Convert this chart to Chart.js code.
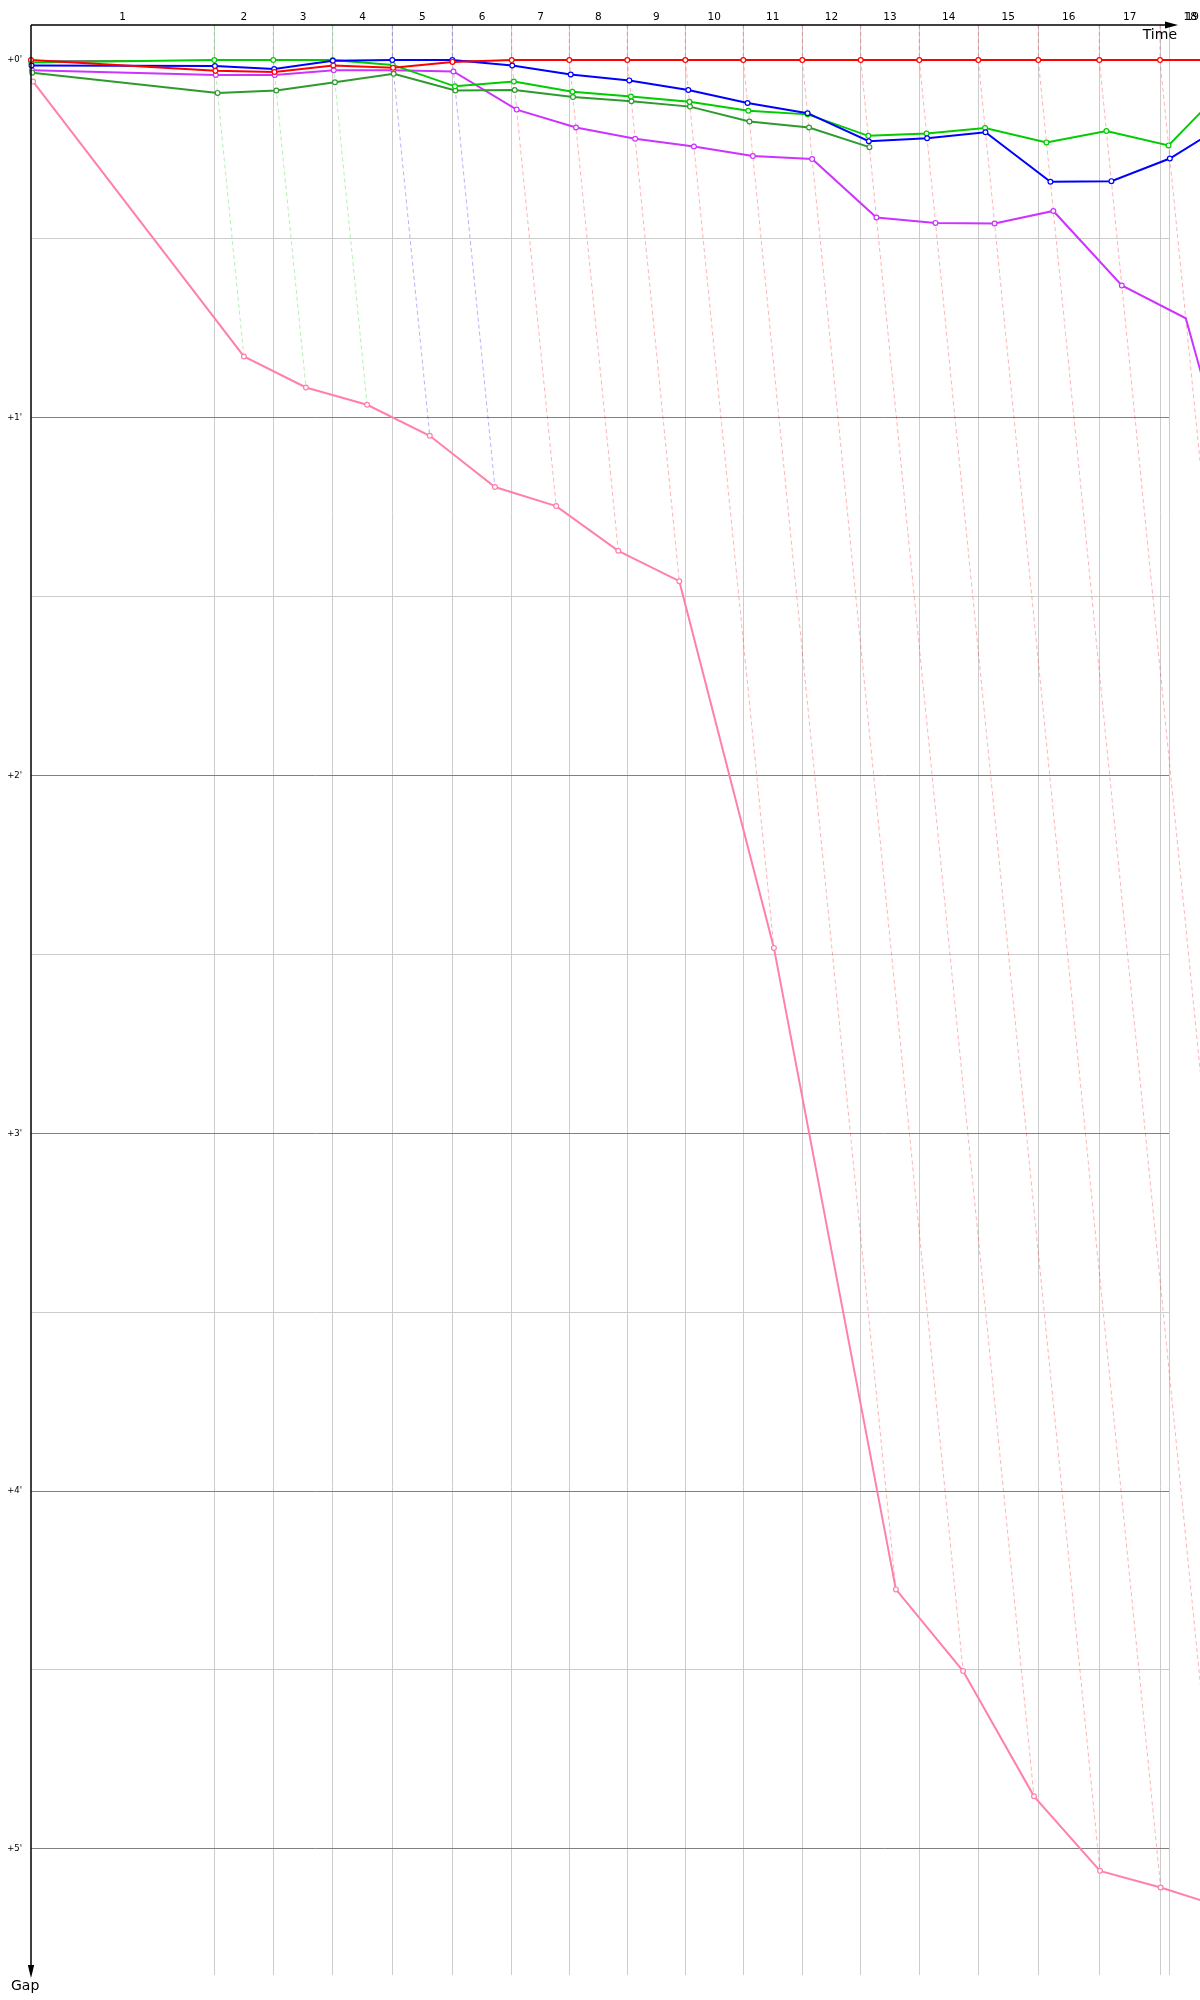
<!DOCTYPE html>
<html>
<head>
<meta charset="utf-8">
<script src="https://cdn.jsdelivr.net/npm/chart.js@4/dist/chart.umd.min.js"></script>
<style>
html,body{margin:0;padding:0;background:#fff;}
#wrap{width:1200px;height:2000px;position:relative;}
canvas{display:block;}
</style>
</head>
<body>
<div id="wrap"><canvas id="c" width="1200" height="2000"></canvas></div>
<script>
// ---------------- DATA ----------------
// lap numbers shown along the time axis
const lapNumbers = [1,2,3,4,5,6,7,8,9,10,11,12,13,14,15,16,17,18,19];
// leader's cumulative time (s) at start (index 0) and at the end of each lap
const leaderLapTimes = [0, 308.1, 407.2, 507.1, 607.2, 708.1, 807.9, 904.7, 1002.2, 1099.7,
  1197.1, 1296.3, 1394.5, 1492.9, 1592.1, 1692.9, 1795.5, 1897.5, 1999.0, 2100.0];
// leader at the end of each lap (index = lap number)
const lapLeader = [null,'green','green','green','blue','blue','red','red','red','red','red',
  'red','red','red','red','red','red','red'];
// gaps to leader (seconds), index = lap (0 = start)
const gapRed       = [0, 1.8, 2.0, 0.9, 1.3, 0.3, 0, 0, 0, 0, 0, 0, 0, 0, 0, 0, 0, 0, 0];
const gapBlue      = [0.9, 1.0, 1.5, 0.1, 0, 0, 0.9, 2.4, 3.4, 5.0, 7.2, 8.9, 13.6, 13.1, 12.1, 20.4, 20.3, 16.5, 10.6];
const gapGreen     = [0.4, 0, 0, 0, 0.8, 4.4, 3.6, 5.3, 6.1, 7.0, 8.5, 9.1, 12.7, 12.3, 11.4, 13.8, 11.9, 14.3, 4.9];
const gapDarkGreen = [2.1, 5.5, 5.1, 3.7, 2.3, 5.1, 5.0, 6.2, 6.9, 7.8, 10.3, 11.3, 14.6];
const gapPurple    = [1.7, 2.5, 2.5, 1.7, 1.7, 1.9, 8.3, 11.3, 13.2, 14.5, 16.1, 16.6, 26.4, 27.3, 27.4, 25.3, 37.8, 43.3, 100];
const gapPink      = [3.6, 49.7, 54.9, 57.8, 63.0, 71.6, 74.8, 82.3, 87.4, 148.9, 256.5, 270.2, 291.2, 303.7, 306.5, 309.8, 312, 315];
// gap axis: labelled minutes, grid every half minute
const gapMinuteLabels = ["+0'","+1'","+2'","+3'","+4'","+5'"];

// ---------------- STYLE ----------------
const COLORS = {
  red: '#ff0000', blue: '#0000ff', green: '#00cc00', darkgreen: '#2e9a2e',
  purple: '#cc33ff', pink: '#ff80aa'
};
const DASH = { red: 'rgba(255,0,0,0.3)', green: 'rgba(0,204,0,0.3)', blue: 'rgba(0,0,255,0.3)' };
const X_MIN = 0, X_MAX = 1912.6, Y_MIN = -5.89, Y_MAX = 321.17;

function series(gaps) {
  return gaps.map((g, i) => ({ x: leaderLapTimes[i] + g, y: g }));
}
function mainDs(gaps, color, order) {
  return {
    data: series(gaps), showLine: true, borderColor: color, borderWidth: 2,
    pointRadius: 2.4, pointBorderWidth: 1.2, pointBackgroundColor: '#ffffff',
    pointBorderColor: color, clip: false, order: order, tension: 0
  };
}
const datasets = [
  mainDs(gapRed, COLORS.red, 0),
  mainDs(gapBlue, COLORS.blue, 1),
  mainDs(gapGreen, COLORS.green, 2),
  mainDs(gapDarkGreen, COLORS.darkgreen, 3),
  mainDs(gapPurple, COLORS.purple, 4),
  mainDs(gapPink, COLORS.pink, 5)
];
for (let lap = 1; lap < lapLeader.length; lap++) {
  const t = leaderLapTimes[lap], g = gapPink[lap];
  datasets.push({
    data: [{ x: t, y: Y_MIN }, { x: t, y: 0 }, { x: t + g, y: g }],
    showLine: true, borderColor: DASH[lapLeader[lap]], borderWidth: 1,
    borderDash: [4, 3], pointRadius: 0, clip: false, order: 10
  });
}

const decor = {
  id: 'decor',
  afterDraw(chart) {
    const ctx = chart.ctx, xs = chart.scales.x, ys = chart.scales.y, ca = chart.chartArea;
    ctx.save();
    // axes
    ctx.strokeStyle = '#000'; ctx.fillStyle = '#000'; ctx.lineWidth = 1.5;
    ctx.beginPath();
    ctx.moveTo(ca.left, ca.top); ctx.lineTo(ca.right + 6, ca.top);
    ctx.moveTo(ca.left, ca.top); ctx.lineTo(ca.left, ca.bottom - 6);
    ctx.stroke();
    ctx.beginPath();
    ctx.moveTo(ca.right + 9, ca.top); ctx.lineTo(ca.right - 4, ca.top - 3.5); ctx.lineTo(ca.right - 4, ca.top + 3.5); ctx.closePath();
    ctx.fill();
    ctx.beginPath();
    ctx.moveTo(ca.left, ca.bottom + 3); ctx.lineTo(ca.left - 3.2, ca.bottom - 10); ctx.lineTo(ca.left + 3.2, ca.bottom - 10); ctx.closePath();
    ctx.fill();
    // lap labels
    ctx.font = '10.5px "DejaVu Sans"'; ctx.textAlign = 'center'; ctx.textBaseline = 'middle';
    lapNumbers.forEach((n, i) => {
      const mid = (leaderLapTimes[i] + leaderLapTimes[i + 1]) / 2;
      const txt = String(n);
      const w = ctx.measureText(txt).width;
      let px = xs.getPixelForValue(mid);
      px = Math.min(px, chart.width - w / 2 - 1);
      ctx.fillText(txt, px, ca.top - 8);
    });
    // gap labels
    ctx.font = '8.5px "DejaVu Sans"'; ctx.textAlign = 'right';
    gapMinuteLabels.forEach((lbl, m) => {
      ctx.fillText(lbl, ca.left - 9, ys.getPixelForValue(m * 60));
    });
    // axis titles
    ctx.font = '14px "DejaVu Sans"';
    ctx.textAlign = 'right';
    ctx.fillText('Time', ca.right + 8, ca.top + 10);
    ctx.textAlign = 'left';
    ctx.fillText('Gap', ca.left - 20, ca.bottom + 11);
    ctx.restore();
  }
};

new Chart(document.getElementById('c'), {
  type: 'scatter',
  data: { datasets },
  options: {
    responsive: false, animation: false, devicePixelRatio: 1,
    layout: { padding: { left: 31, right: 31, top: 25, bottom: 25 } },
    plugins: { legend: { display: false }, tooltip: { enabled: false } },
    scales: {
      x: {
        type: 'linear', position: 'top', bounds: 'data',
        ticks: { display: false },
        border: { display: false },
        grid: { color: '#cccccc', lineWidth: 1, drawTicks: false },
        // limits set here (not as options) so every point, even past the edge, is kept for the lines
        afterDataLimits(s) { s.min = X_MIN; s.max = X_MAX; },
        afterBuildTicks(s) {
          const t = leaderLapTimes.slice(1).filter(v => v <= X_MAX).map(v => ({ value: v }));
          t.push({ value: X_MAX });
          s.ticks = t;
          s.min = X_MIN; s.max = X_MAX;
        },
        afterFit(s) { s.height = 0; }
      },
      y: {
        type: 'linear', reverse: true, min: Y_MIN, max: Y_MAX,
        ticks: { display: false },
        border: { display: false },
        grid: {
          drawTicks: false, lineWidth: 1,
          color: c => (c.tick && Math.abs(c.tick.value % 60) < 1e-6) ? '#808080' : '#cccccc'
        },
        afterBuildTicks(s) {
          const t = [];
          for (let v = 0; v <= 300; v += 30) t.push({ value: v });
          s.ticks = t;
        },
        afterFit(s) { s.width = 0; }
      }
    }
  },
  plugins: [decor]
});
</script>
</body>
</html>
